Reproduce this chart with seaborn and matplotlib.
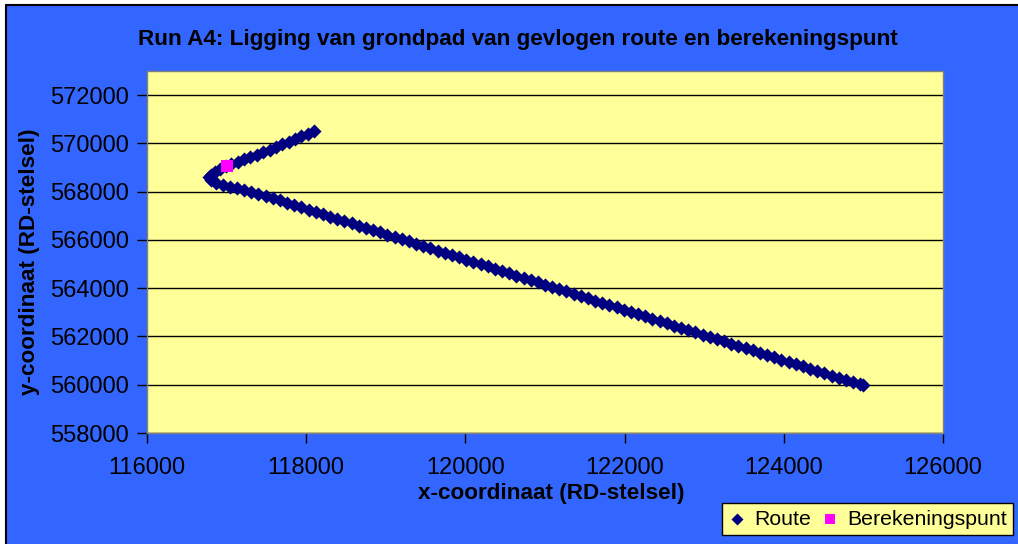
import matplotlib
matplotlib.use("Agg")
import matplotlib.pyplot as plt
from matplotlib.patches import Rectangle
from matplotlib.lines import Line2D
import seaborn as sns

# grondpad van de gevlogen route (RD-stelsel)
route_x = [118100, 118020, 117940, 117860, 117780, 117700, 117620, 117540, 117460, 117380,
           117300, 117220, 117140, 117060, 116990, 116920, 116850, 116800, 116780,
           116800, 116870, 116950, 117040, 117130, 117220, 117310, 117400, 117490, 117580,
           117670, 117760, 117850, 117940, 118030, 118120, 118210, 118300, 118390, 118480,
           118570, 118660, 118750, 118840, 118930, 119020, 119110, 119200, 119290, 119380,
           119470, 119560, 119650, 119740, 119830, 119920, 120010, 120100, 120190, 120280,
           120370, 120460, 120550, 120640, 120730, 120820, 120910, 121000, 121090, 121180,
           121270, 121360, 121450, 121540, 121630, 121720, 121810, 121900, 121990, 122080,
           122170, 122260, 122350, 122440, 122530, 122620, 122710, 122800, 122890, 122980,
           123070, 123160, 123250, 123340, 123430, 123520, 123610, 123700, 123790, 123880,
           123970, 124060, 124150, 124240, 124330, 124420, 124510, 124600, 124690, 124780,
           124870, 124960, 125000]
route_y = [570520, 570410, 570300, 570185, 570070, 569960, 569850, 569745, 569640, 569540,
           569440, 569340, 569240, 569140, 569050, 568950, 568820, 568700, 568600,
           568480, 568360, 568280, 568200, 568140, 568070, 568000, 567900, 567820, 567730,
           567640, 567540, 567440, 567350, 567250, 567160, 567060, 566970, 566870, 566780,
           566690, 566590, 566500, 566410, 566310, 566220, 566130, 566030, 565940, 565840,
           565750, 565650, 565560, 565460, 565370, 565280, 565180, 565090, 564990, 564900,
           564810, 564710, 564620, 564520, 564430, 564340, 564240, 564150, 564050, 563960,
           563870, 563770, 563680, 563580, 563490, 563400, 563300, 563210, 563110, 563020,
           562920, 562830, 562740, 562640, 562550, 562450, 562360, 562270, 562170, 562080,
           561980, 561890, 561800, 561700, 561610, 561510, 561420, 561320, 561230, 561140,
           561040, 560950, 560850, 560760, 560660, 560570, 560470, 560380, 560290, 560190,
           560100, 560010, 559980]

punt_x = [117000]
punt_y = [569050]

x_ticks = [116000, 118000, 120000, 122000, 124000, 126000]
y_ticks = [558000, 560000, 562000, 564000, 566000, 568000, 570000, 572000]

sns.set_style("ticks")
plt.rcParams['font.family'] = ['Liberation Sans', 'DejaVu Sans']
plt.rcParams['text.color'] = 'black'

fig = plt.figure(figsize=(10.18, 5.44), dpi=100, facecolor='white')
# blauwe achtergrond met zwarte rand links en boven
fig.add_artist(Rectangle((6 / 1018, 0), 1, 1 - 5 / 544, transform=fig.transFigure,
                         facecolor='#3366FF', edgecolor='none', zorder=-10))
fig.add_artist(Line2D([6 / 1018, 6 / 1018], [0, 1 - 5 / 544], transform=fig.transFigure,
                      color='black', lw=1.5, zorder=-5))
fig.add_artist(Line2D([6 / 1018, 1], [1 - 5 / 544, 1 - 5 / 544], transform=fig.transFigure,
                      color='black', lw=1.5, zorder=-5))

ax = fig.add_axes([147 / 1018, 1 - 433 / 544, 796 / 1018, 362 / 544])
ax.set_facecolor('#FFFF99')

sns.scatterplot(x=route_x, y=route_y, marker='D', color='#000080', s=52, linewidth=0,
                ax=ax, label='Route', zorder=3)
sns.scatterplot(x=punt_x, y=punt_y, marker='s', color='#FF00FF', s=68, linewidth=0,
                ax=ax, label='Berekeningspunt', zorder=4)

ax.set_xlim(116000, 126000)
ax.set_ylim(558000, 573000)
ax.set_xticks(x_ticks)
ax.set_yticks(y_ticks)
ax.set_xticklabels([str(v) for v in x_ticks])
ax.set_yticklabels([str(v) for v in y_ticks])
ax.yaxis.grid(True, color='black', lw=1)
ax.xaxis.grid(False)
ax.set_axisbelow(True)
ax.tick_params(axis='both', labelsize=17, direction='out', length=7, width=1,
               color='black', labelcolor='black')
ax.tick_params(axis='x', pad=10)
ax.tick_params(axis='y', pad=6)
for sp in ax.spines.values():
    sp.set_color('#808080')
    sp.set_linewidth(1)
ax.set_xlabel('')
ax.set_ylabel('')

handles, labels = ax.get_legend_handles_labels()
ax.get_legend().remove()
fig.legend(handles, labels, ncol=2, loc='lower right', bbox_to_anchor=(1013 / 1018, 9 / 544),
           borderaxespad=0, frameon=True, fancybox=False, facecolor='#FFFF99',
           edgecolor='black', framealpha=1, fontsize=15.3, handlelength=0.8,
           handletextpad=0.4, columnspacing=0.5, borderpad=0.3, markerscale=0.85)

fig.text(518 / 1018, 1 - 39 / 544, 'Run A4: Ligging van grondpad van gevlogen route en berekeningspunt',
         fontsize=16.2, fontweight='bold', ha='center', va='center')
fig.text(551 / 1018, 1 - 494 / 544, 'x-coordinaat (RD-stelsel)', fontsize=16.2,
         fontweight='bold', ha='center', va='center')
fig.text(30 / 1018, 1 - 262 / 544, 'y-coordinaat (RD-stelsel)', fontsize=16.2,
         fontweight='bold', ha='center', va='center', rotation=90)

fig.savefig('out.png', dpi=100, facecolor=fig.get_facecolor())
